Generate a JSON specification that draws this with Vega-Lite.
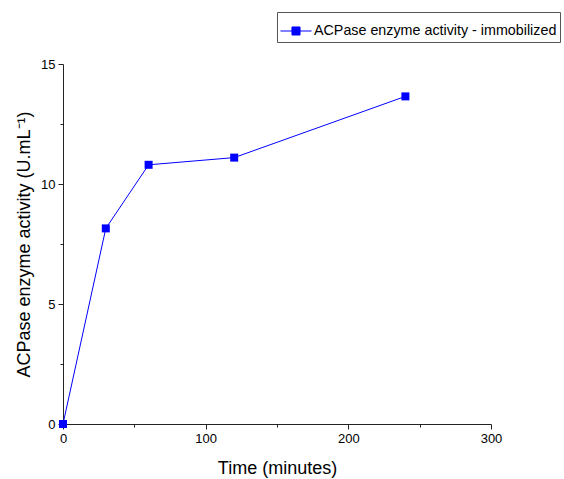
{
  "$schema": "https://vega.github.io/schema/vega-lite/v6.json",
  "width": 428,
  "height": 360,
  "autosize": {"type": "none"},
  "padding": {"left": 63, "top": 64, "right": 73, "bottom": 55},
  "background": "white",
  "config": {
    "view": {"stroke": null},
    "font": "Liberation Sans",
    "axis": {"grid": false, "domainColor": "#222222", "tickColor": "#222222", "labelColor": "#000000", "titleColor": "#000000", "labelFont": "Liberation Sans", "titleFont": "Liberation Sans", "titleFontWeight": "normal", "labelFontSize": 13, "titleFontSize": 18, "domainWidth": 1, "tickWidth": 1, "labelFlush": false}
  },
  "data": {"values": [
    {"time": 0, "activity": 0, "series": "ACPase enzyme activity - immobilized"},
    {"time": 30, "activity": 8.15, "series": "ACPase enzyme activity - immobilized"},
    {"time": 60, "activity": 10.8, "series": "ACPase enzyme activity - immobilized"},
    {"time": 120, "activity": 11.1, "series": "ACPase enzyme activity - immobilized"},
    {"time": 240, "activity": 13.65, "series": "ACPase enzyme activity - immobilized"}
  ]},
  "encoding": {
    "x": {"field": "time", "type": "quantitative", "scale": {"domain": [0, 300], "nice": false, "zero": false}, "axis": {"values": [0, 50, 100, 150, 200, 250, 300], "labelExpr": "datum.value % 100 == 0 ? datum.label : ''", "tickSize": {"condition": {"test": "datum.value % 100 == 0", "value": 5}, "value": 3}, "title": "Time (minutes)", "titlePadding": 14, "labelPadding": 3}},
    "y": {"field": "activity", "type": "quantitative", "scale": {"domain": [0, 15], "nice": false}, "axis": {"values": [0, 2.5, 5, 7.5, 10, 12.5, 15], "labelExpr": "datum.value % 5 == 0 ? datum.label : ''", "tickSize": {"condition": {"test": "datum.value % 5 == 0", "value": 5}, "value": 3}, "title": "ACPase enzyme activity (U.mL⁻¹)", "titlePadding": 7, "labelPadding": 3}},
    "color": {"field": "series", "type": "nominal", "scale": {"range": ["#0000FF"]}, "legend": {"title": null, "orient": "none", "legendX": 214, "legendY": -52, "strokeColor": "#555555", "padding": 3, "labelFontSize": 14.3, "labelLimit": 400, "labelColor": "#000000", "labelFont": "Liberation Sans", "symbolType": "M-1,0H1M-0.26,-0.26H0.26V0.26H-0.26Z", "symbolSize": 961, "symbolFillColor": "#0000FF", "symbolStrokeColor": "#0000FF", "symbolStrokeWidth": 1, "labelOffset": 2}}
  },
  "layer": [
    {"mark": {"type": "line", "strokeWidth": 1, "clip": false}},
    {"mark": {"type": "square", "size": 64, "opacity": 1, "filled": true}}
  ]
}
